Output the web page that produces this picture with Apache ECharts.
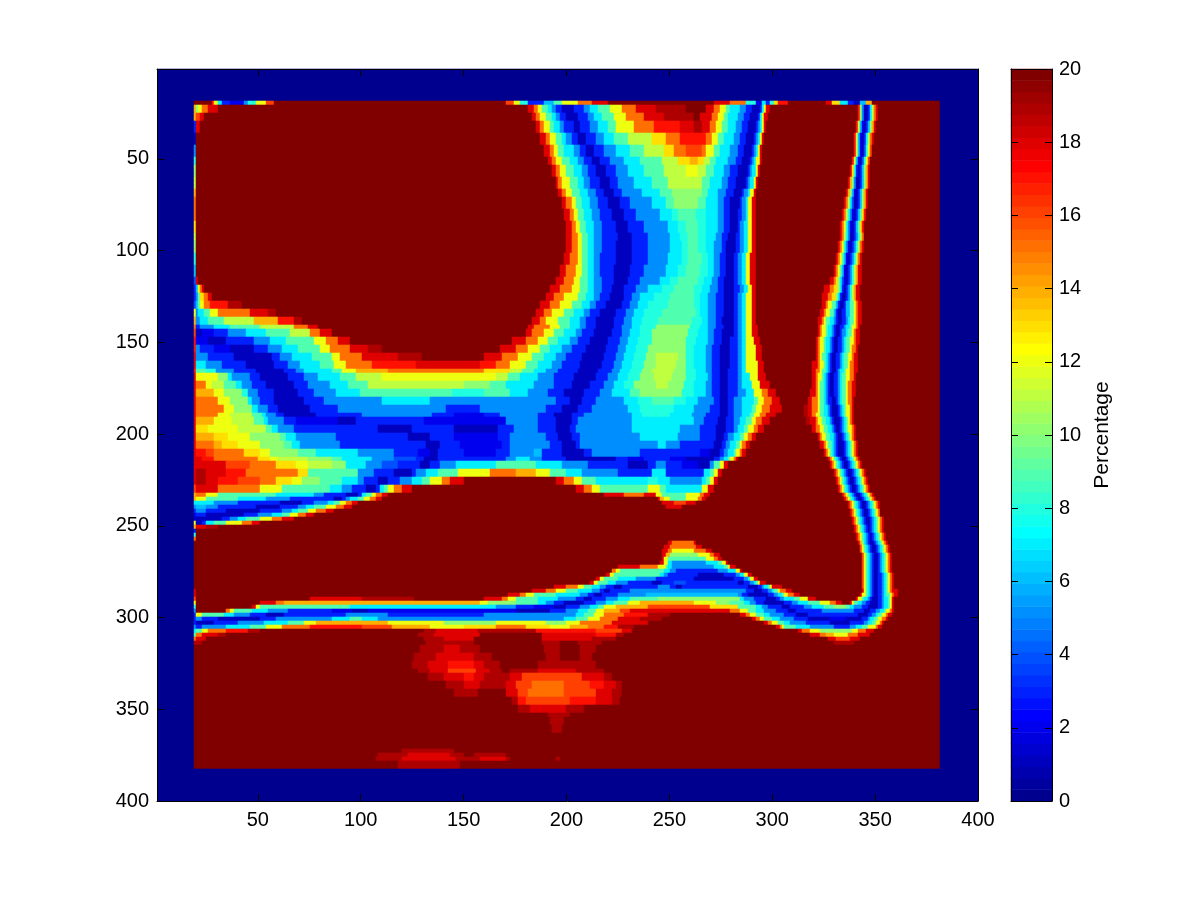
<!DOCTYPE html>
<html>
<head>
<meta charset="utf-8">
<style>html,body{margin:0;padding:0;background:#fff}#c{width:1200px;height:900px}</style>
<script src="https://cdn.jsdelivr.net/npm/echarts@6/dist/echarts.min.js"></script>
</head>
<body>
<div id="c"></div>
<script>
// Values. Each row: first image row (y) and "value endX" runs along x.
const rowStarts = [19,21,24,26,30,36,42,48,54,60,66,72,78,84,90,96,102,108,114,120,
124,128,132,136,140,144,148,152,156,160,164,168,172,176,180,184,188,192,196,200,204,208,212,216,220,224,228,232,
234,236,238,240,242,244,246,248,250,252,254,256,258,260,262,264,266,268,270,272,274,276,278,280,282,284,286,288,
290,292,294,296,298,300,302,304,306,308,310,312,314,316,320,324,328,332,336,340,344,348,352,356,360,364,372,374,376,378,380];
const rowRuns = [
"20 27 17 28 12 30 7 32 3 36 2 42 5 44 8 48 12 53 16 57 20 170 16 174 12 177 8 181 3 189 6 194 9 198 12 205 15 212 18 220 20 272 18 280 15 287 8 292 2 295 7 297 3 299 8 301 13 303 17 308 20 326 18 329 13 333 7 337 3 340 1 343 6 346 14 349 20 382",
"14 19 10 20 12 22 15 25 18 30 20 181 18 184 15 186 12 188 9 191 7 193 5 195 3 198 1 203 3 208 5 211 7 215 9 221 12 227 15 234 18 243 19 258 20 268 18 272 15 275 12 278 9 280 7 284 5 287 3 290 1 294 3 295 7 296 12 297 18 299 20 342 17 343 10 344 5 345 1 347 3 348 7 349 11 350 15 351 18 352",
"7 19 12 20 18 22 20 182 18 185 15 187 12 189 9 192 7 194 5 196 3 199 1 204 3 209 5 212 7 216 9 222 12 228 15 236 18 245 19 259 20 266 18 271 15 274 12 277 9 279 7 283 5 286 3 289 1 293 3 294 7 295 12 296 18 298 20 342 17 343 10 344 5 345 1 347 3 348 7 349 11 350 15 351 18 352",
"14 19 16 21 18 23 20 183 18 185 15 187 12 190 9 193 7 195 5 197 3 200 1 205 3 210 5 213 7 217 9 223 12 229 15 238 18 247 19 262 20 265 18 271 15 274 12 277 9 279 7 283 5 286 3 289 1 293 3 294 7 295 12 296 18 298 20 342 17 343 10 344 5 345 1 347 3 348 7 349 11 350 15 351 18 352",
"3 19 18 21 20 185 18 187 15 189 12 192 9 194 7 197 5 199 3 203 1 206 3 211 5 215 7 220 9 224 12 233 15 242 17 255 18 262 19 266 18 270 15 273 12 276 9 279 7 282 5 285 3 288 1 292 3 293 5 294 7 295 12 296 18 297 20 341 17 342 11 343 6 344 2 345 1 346 3 347 6 348 10 349 14 350 18 351",
"1 19 20 187 18 190 15 192 12 195 9 198 7 200 5 202 3 205 1 209 3 214 5 218 7 223 9 230 11 241 13 248 15 255 17 268 15 271 12 274 9 277 7 281 5 284 3 287 1 291 3 292 5 293 7 294 12 295 18 296 20 340 17 341 11 342 6 343 2 344 1 345 3 346 7 347 11 348 15 349 18 350",
"5 19 20 189 18 192 15 194 12 196 9 199 7 203 5 206 3 209 1 213 3 218 5 224 7 231 9 238 11 247 13 252 15 258 16 266 15 268 12 272 9 275 7 280 5 283 3 286 1 290 3 291 5 292 7 293 12 294 18 295 20 340 17 341 11 342 6 343 2 344 1 345 4 346 8 347 12 348 16 349",
"8 19 20 191 18 193 15 195 12 198 9 201 7 205 5 208 3 212 1 216 3 221 5 228 7 236 9 246 11 254 13 260 14 264 13 267 11 270 9 273 7 279 5 282 3 285 1 289 3 290 5 291 7 292 12 294 18 295 20 339 17 340 11 341 6 342 2 343 1 344 4 345 8 346 12 347 16 348",
"10 19 20 193 18 195 15 197 12 200 9 203 7 207 5 210 3 214 1 219 3 224 5 230 7 238 9 247 11 258 12 264 11 268 9 272 7 277 5 280 3 283 1 288 3 289 5 290 7 292 12 293 18 294 20 338 18 339 13 340 8 341 3 342 1 343 3 344 6 345 10 346 14 347 18 348",
"11 19 20 195 18 196 15 198 12 201 9 205 7 208 5 211 3 216 1 221 3 225 5 233 7 241 9 249 11 266 9 270 7 276 5 279 3 282 1 287 3 288 5 289 7 291 12 292 18 293 20 337 18 338 14 339 10 340 5 341 1 343 3 344 6 345 10 346 14 347 18 348",
"14 19 20 196 18 198 15 200 12 202 9 206 7 210 5 214 3 218 1 223 3 227 5 237 7 245 9 251 10 266 9 269 7 274 5 278 3 281 1 285 3 286 5 288 7 289 12 291 18 292 20 336 18 337 14 338 10 339 6 340 2 341 1 342 3 343 6 344 10 345 14 346 18 347",
"15 19 20 198 18 200 15 202 12 204 9 207 7 211 5 215 3 220 1 226 3 231 5 241 7 248 9 252 10 264 9 268 7 274 5 277 3 280 1 284 3 285 5 287 7 288 12 290 18 292 20 335 18 336 15 337 11 338 7 339 4 340 1 342 3 343 6 344 10 345 14 346 18 347",
"15 19 20 199 18 201 15 203 12 205 9 208 7 212 5 216 3 222 1 228 3 234 5 245 7 251 8 254 9 263 8 268 7 274 5 277 3 280 1 283 3 285 5 287 7 288 12 290 18 292 20 334 18 335 15 336 11 337 8 338 5 339 2 340 1 341 3 342 6 343 9 344 13 345 17 346",
"13 19 20 200 18 202 15 204 12 206 9 209 7 213 5 217 3 224 1 230 3 238 5 249 7 254 8 258 9 264 8 268 7 274 5 277 3 280 1 283 3 284 5 286 7 288 12 290 18 292 20 333 18 334 15 335 12 336 8 337 5 338 2 339 1 340 3 341 6 342 9 343 13 344 17 345",
"11 19 20 200 18 202 15 205 12 207 9 210 7 213 5 217 3 225 1 232 3 240 5 250 7 255 8 259 9 264 8 268 7 273 5 276 3 279 1 282 3 284 5 286 7 288 12 290 18 292 20 333 18 334 15 335 11 336 8 337 5 338 1 340 3 341 5 342 8 343 11 344 15 345",
"10 19 20 200 18 202 15 205 12 207 9 210 7 213 5 217 3 224 1 232 3 240 5 250 7 256 8 259 9 264 8 268 7 272 5 276 3 278 1 282 3 284 5 286 7 288 12 290 18 292 20 332 18 333 15 334 12 335 8 336 5 337 2 338 1 339 3 340 5 341 8 342 11 343 15 344 18 345",
"8 19 20 199 18 201 15 205 12 207 9 210 7 213 5 216 3 224 1 232 3 240 5 249 7 256 8 259 9 266 8 269 7 272 5 275 3 278 1 281 3 283 5 285 7 287 12 289 18 292 20 331 18 332 15 333 12 334 9 335 6 336 2 337 1 338 3 339 5 340 8 341 11 342 15 343 18 344",
"6 19 20 197 18 200 15 204 12 207 9 210 7 213 5 216 3 223 1 231 3 238 5 248 7 254 8 258 9 265 8 269 7 272 5 275 3 278 1 281 3 283 5 285 7 287 12 289 18 292 20 330 18 331 15 332 12 333 9 334 6 335 2 336 1 337 3 338 5 339 8 340 11 341 14 342 18 344",
"4 19 18 20 20 195 18 199 15 203 12 206 9 210 7 213 5 217 3 223 1 230 3 236 5 245 7 250 8 254 9 264 8 267 7 271 5 274 3 277 1 281 3 283 5 285 7 287 12 289 18 292 20 328 18 330 15 331 13 332 10 333 7 334 4 335 2 336 1 337 3 338 5 339 8 340 11 341 14 342 18 344",
"3 19 6 20 12 21 15 22 18 23 20 192 18 197 15 202 12 206 9 210 7 213 5 217 3 222 1 228 3 234 5 240 7 246 8 252 9 262 8 266 7 270 5 274 3 277 1 281 3 284 5 286 7 288 12 290 18 292 20 325 18 328 15 330 13 332 10 333 7 334 3 335 1 336 3 337 5 338 8 339 11 340 14 341 18 343",
"3 19 5 20 9 21 13 23 15 25 18 27 20 190 18 194 15 199 12 205 9 209 7 213 5 216 3 221 1 228 3 232 5 236 7 242 8 250 9 262 8 265 7 269 5 273 3 277 1 281 3 283 5 285 7 287 12 290 18 292 20 324 18 327 15 329 13 331 10 332 7 333 3 334 1 336 3 337 5 338 8 339 11 340 14 341 18 343",
"4 19 6 20 9 21 12 23 15 26 17 35 19 41 20 187 18 192 15 197 12 202 9 207 7 211 5 214 3 219 1 227 3 231 5 235 7 240 8 249 9 262 8 265 7 269 5 273 3 277 1 281 3 283 5 285 7 287 12 290 18 292 20 324 18 326 15 327 12 329 9 331 6 332 3 333 1 335 3 336 6 338 9 340 12 341 15 342 18 344",
"12 19 5 20 7 23 9 26 12 30 15 45 18 54 19 58 20 185 18 189 15 193 12 199 9 203 7 208 5 211 3 216 1 224 3 229 5 233 7 238 8 246 9 263 8 265 7 269 5 273 3 277 1 281 3 283 5 285 7 287 12 290 18 292 20 323 18 325 15 326 12 328 9 330 6 331 3 332 1 334 3 336 6 338 9 340 12 341 15 342 18 344",
"14 19 5 21 7 25 9 33 11 47 14 59 17 67 19 71 20 183 18 187 15 190 12 196 9 201 7 206 5 209 3 214 1 223 3 228 5 232 7 237 8 244 9 261 8 266 7 269 5 273 3 276 1 281 3 283 5 285 7 287 12 290 18 292 20 322 18 324 15 325 12 326 9 328 7 330 5 331 3 332 1 334 3 336 5 337 7 338 9 340 12 341 15 342 18 344",
"15 19 3 21 5 28 7 36 9 50 11 67 15 74 18 79 20 181 18 184 15 192 12 197 9 201 7 206 5 209 3 214 1 223 3 227 5 232 7 236 8 243 10 260 8 265 7 269 5 273 3 277 1 281 3 283 5 285 7 287 12 290 18 293 20 322 18 323 15 324 12 326 9 327 7 329 5 330 3 331 1 333 3 335 5 336 7 338 9 339 12 341 15 342 18 343",
"16 19 1 22 2 28 3 35 5 43 7 53 9 65 11 75 15 80 18 85 20 180 18 183 15 189 12 194 9 199 7 204 5 207 3 213 1 222 3 227 5 231 7 236 8 241 10 259 8 264 7 269 5 272 3 276 1 281 3 283 5 285 7 287 12 290 18 293 20 322 18 323 15 324 12 326 9 327 7 329 5 330 3 331 1 333 3 334 5 336 7 337 9 339 12 340 15 341 18 343",
"17 19 2 25 1 34 3 47 5 55 7 63 9 77 12 82 15 88 18 94 20 173 18 180 15 186 12 191 9 196 7 201 5 205 3 211 1 220 3 226 5 230 7 235 8 241 10 258 8 263 7 269 5 272 3 276 1 280 3 283 5 285 7 287 12 291 18 294 20 321 18 322 15 323 12 325 9 326 7 328 5 329 3 330 1 332 3 334 5 335 7 336 9 338 12 340 15 341 18 343",
"17 19 5 21 3 28 2 36 1 47 3 54 5 61 7 69 9 80 12 84 15 94 18 103 19 110 20 167 18 175 15 181 12 187 9 192 7 198 5 202 3 209 1 219 3 225 5 229 7 234 8 240 10 258 8 262 7 268 5 271 3 275 1 280 3 283 5 285 7 287 12 292 18 295 20 321 18 322 15 323 12 325 9 326 7 328 5 329 3 330 1 332 3 334 5 335 7 336 9 338 12 339 15 341 18 342",
"18 19 5 25 3 38 1 56 3 60 5 66 7 76 9 85 12 89 15 100 18 118 19 129 20 160 18 168 15 176 12 183 9 189 7 195 5 200 3 207 1 218 3 224 5 228 7 233 8 239 10 243 11 254 10 258 8 262 7 268 5 271 3 275 1 280 3 283 5 285 7 287 12 292 18 295 20 321 18 322 15 323 12 324 9 326 7 327 5 328 3 329 1 331 3 333 5 334 7 335 9 337 12 339 15 340 18 342",
"18 19 7 24 5 32 3 43 1 57 3 64 5 70 7 80 9 86 12 92 15 105 17 126 18 158 17 165 15 172 12 180 9 186 7 193 5 198 3 206 1 217 3 223 5 227 7 232 8 238 10 243 11 253 10 258 8 262 7 268 5 271 3 275 1 280 3 283 5 285 7 287 12 293 18 296 20 320 18 322 15 323 12 325 9 326 7 327 5 328 3 329 1 331 3 333 5 334 7 335 9 337 12 338 15 340 18 342",
"17 19 9 24 8 29 5 38 3 48 1 62 3 68 5 72 7 85 9 90 12 97 14 113 15 160 13 172 11 178 9 184 7 190 5 196 3 205 1 215 3 222 5 226 7 231 8 237 10 241 11 252 10 258 8 263 7 268 5 271 3 275 1 279 3 283 5 285 7 287 12 293 18 296 20 320 18 321 15 323 12 324 9 326 7 327 5 328 3 329 1 331 3 332 5 333 7 335 9 336 12 338 15 340 18 342",
"18 19 12 30 10 35 7 37 5 45 3 50 1 64 3 72 5 79 7 89 9 97 11 110 12 165 11 171 9 177 7 186 5 194 3 203 1 214 3 220 5 225 7 230 8 236 10 242 11 251 10 258 8 263 7 269 5 271 3 275 1 279 3 283 5 285 7 289 12 293 18 297 20 320 18 321 15 322 12 324 9 325 7 326 5 327 3 328 1 330 3 332 5 333 7 334 9 336 12 338 15 340 18 341",
"18 19 15 24 12 27 11 33 9 39 7 41 5 46 3 53 1 67 3 74 5 84 7 93 9 103 11 150 10 162 9 170 7 184 5 194 3 202 1 211 3 218 5 223 7 228 8 233 10 243 11 249 10 257 8 262 7 268 5 271 3 275 1 279 3 283 5 285 7 290 12 294 18 299 20 320 18 321 15 322 12 323 9 325 7 326 5 327 3 328 1 330 3 332 5 333 7 334 9 336 12 337 15 339 18 341",
"18 19 14 28 12 33 10 41 8 44 5 49 3 57 1 69 3 77 5 87 7 99 9 144 8 160 9 172 7 181 5 191 3 199 1 208 3 216 5 222 7 231 9 236 10 256 8 262 7 268 5 271 3 275 1 279 3 283 5 287 7 291 12 295 15 298 18 302 20 319 18 321 15 322 12 323 9 325 7 326 5 327 3 328 1 330 3 332 5 333 7 334 9 336 12 337 15 339 18 341",
"18 19 15 30 12 36 10 44 7 46 5 50 3 57 1 72 3 81 5 110 7 133 5 195 3 201 1 207 3 214 5 228 7 235 8 241 9 252 8 258 7 264 5 272 3 275 1 279 3 281 5 285 7 291 9 293 12 296 15 300 18 304 20 318 18 320 15 322 12 323 9 325 7 326 5 327 3 329 1 331 3 332 5 333 7 334 9 336 12 337 15 339 18 340",
"18 19 15 33 12 38 10 46 7 49 5 54 3 59 1 75 3 88 5 141 3 158 5 190 3 198 1 205 3 212 5 230 7 236 8 252 7 262 5 270 3 275 1 279 3 281 5 285 7 290 9 292 12 295 15 299 18 305 20 316 19 318 18 320 15 322 12 323 9 325 7 327 5 328 3 329 1 332 3 333 5 334 7 335 9 336 12 338 15 339 18 340",
"18 19 15 30 12 36 11 46 9 51 7 53 5 58 3 62 1 78 3 100 5 134 3 145 2 160 3 167 5 186 3 194 1 202 3 208 5 232 7 237 8 250 7 261 5 268 3 275 1 279 3 281 5 285 7 289 9 291 12 294 15 297 18 302 20 316 19 318 18 320 15 321 12 323 9 325 7 327 5 328 3 329 1 332 3 333 5 334 7 335 9 336 12 338 15 339 18 340",
"18 19 14 28 12 37 11 47 9 52 7 54 5 62 3 68 2 88 1 97 3 130 2 170 5 186 3 195 1 202 3 205 5 232 7 262 5 267 3 274 1 278 3 281 5 284 7 287 9 290 12 292 15 295 18 299 20 317 19 319 18 321 15 322 12 324 9 326 7 328 5 329 3 330 1 333 3 334 5 335 7 336 9 337 12 338 15 339 18 340",
"18 19 13 25 12 40 11 53 9 56 7 59 5 67 3 108 1 124 3 145 1 166 3 174 5 186 3 195 1 201 3 204 5 232 7 255 5 265 3 273 1 278 3 281 5 283 7 286 9 288 12 291 15 293 18 296 20 320 18 321 15 323 12 325 9 327 7 329 5 330 3 331 1 333 3 334 5 335 7 336 9 337 12 339 15 340 18 341",
"18 19 14 28 13 35 12 45 10 60 9 63 7 68 5 87 3 122 1 133 3 145 2 166 3 172 5 190 3 196 1 202 3 206 5 236 7 254 5 265 3 273 1 277 3 279 5 281 7 284 9 286 12 288 15 290 18 292 20 322 18 323 15 324 12 326 9 328 7 330 5 331 3 332 1 334 3 335 5 336 7 337 9 338 12 339 15 340 18 341",
"18 19 15 28 14 32 13 40 12 50 10 62 9 66 7 70 5 89 3 131 1 138 3 148 2 168 3 172 5 192 3 198 1 204 3 206 5 244 7 248 5 255 3 272 1 276 3 278 5 280 7 282 9 284 12 285 15 287 18 289 20 323 18 325 15 326 12 327 9 329 7 330 5 331 3 332 1 335 3 336 5 337 7 338 9 339 12 340 15 341 18 342",
"18 19 17 24 16 28 15 42 13 50 12 55 10 69 9 78 7 98 5 116 3 127 2 133 1 137 3 150 2 165 3 172 5 184 6 188 3 198 1 208 3 212 5 236 3 265 2 270 1 275 3 277 5 279 7 281 9 282 12 284 15 285 18 287 20 325 18 326 15 327 12 328 9 329 7 330 5 331 3 332 1 335 3 336 5 337 7 338 9 339 12 340 15 341 18 342",
"18 22 17 28 15 49 13 55 12 59 11 74 10 85 9 90 7 105 5 116 4 126 3 130 1 137 3 170 5 175 7 182 5 188 3 200 1 224 3 230 2 238 3 250 2 258 1 272 3 275 5 277 7 279 9 280 12 281 15 282 18 283 20 327 18 328 15 329 12 330 9 331 7 332 5 333 3 334 1 336 3 337 5 338 7 339 9 340 12 341 15 342 18 343",
"18 34 16 45 15 58 13 68 12 74 11 85 10 92 7 102 5 110 4 118 3 128 1 133 3 138 5 146 7 165 9 185 7 198 5 210 3 230 1 240 3 243 5 248 3 256 2 264 1 270 5 272 9 275 12 277 18 279 20 328 18 329 15 330 12 331 9 332 7 333 5 334 3 335 1 337 3 338 5 339 7 340 9 341 12 342 15 343 18 344",
"18 19 19 24 18 34 17 43 15 69 13 74 9 98 5 106 3 116 1 124 3 126 5 131 7 137 9 147 12 162 15 175 14 185 12 192 9 200 7 207 5 225 3 241 7 248 3 267 7 270 9 272 12 274 18 276 20 330 18 331 15 332 12 333 9 334 7 335 5 336 3 337 1 339 3 340 5 341 7 342 9 343 12 344 15 345 18 346",
"18 19 19 24 18 30 17 40 16 50 15 58 13 66 12 71 10 80 9 90 7 98 5 101 3 108 1 113 3 119 5 124 7 129 9 133 12 139 15 143 18 150 20 195 18 199 15 203 12 207 9 214 7 240 8 244 7 250 5 266 7 268 9 270 12 272 18 274 20 331 18 332 15 333 12 334 9 335 7 336 5 337 3 338 1 340 3 341 5 342 7 343 9 344 12 345 15 346 18 347",
"16 19 18 30 15 50 12 61 9 84 7 90 5 95 3 102 1 107 3 109 7 111 9 113 12 116 15 120 18 124 20 204 18 208 15 212 12 216 9 240 12 245 9 248 7 266 12 269 18 272 20 332 18 333 15 334 12 335 9 336 7 337 5 338 3 339 1 341 3 342 5 343 7 344 9 345 12 346 15 347 18 348",
"14 19 15 24 12 30 9 58 7 77 5 81 3 92 1 98 3 100 7 102 9 105 12 107 15 110 18 113 20 218 18 228 15 238 18 243 12 246 9 258 12 265 15 267 18 270 20 334 18 335 15 336 12 337 9 338 7 339 5 340 3 341 1 343 3 344 5 345 7 346 9 347 12 348 15 349 18 350",
"14 19 12 24 9 40 7 53 5 65 3 86 1 90 3 92 5 94 7 98 9 101 12 104 15 107 18 110 20 244 18 245 14 247 12 250 9 258 12 264 15 266 18 268 20 335 18 336 15 337 12 338 9 339 7 340 5 341 3 342 1 344 3 345 5 346 7 347 9 348 12 349 15 350 18 351",
"9 30 7 40 5 58 3 78 1 83 3 86 5 92 7 94 9 96 12 98 15 101 18 104 20 244 18 246 15 252 13 258 15 262 18 268 20 336 18 337 15 338 12 339 9 340 7 341 5 342 3 343 1 345 3 346 5 347 7 348 9 349 12 350 15 351 18 352",
"7 28 5 40 3 60 1 71 3 77 5 83 7 86 9 89 12 92 15 95 18 98 20 246 18 252 16 258 18 263 20 337 18 338 15 339 12 340 9 341 7 342 5 343 3 344 1 346 3 347 5 348 7 349 9 350 12 351 15 352 18 353",
"5 19 6 24 5 30 3 48 1 60 3 69 5 73 7 77 9 82 12 87 15 91 18 95 20 248 18 256 20 337 18 338 15 339 12 340 9 341 7 342 5 343 3 344 1 346 3 347 5 348 7 349 9 350 12 351 15 352 18 353",
"3 19 5 24 3 34 1 50 3 61 5 66 7 69 9 74 12 78 15 82 18 86 20 338 18 339 15 340 12 341 9 342 7 343 5 344 3 345 1 347 3 348 5 349 7 350 9 351 12 352 15 353",
"2 19 3 24 1 42 3 49 5 56 7 61 9 65 12 69 15 73 18 77 20 338 18 339 15 340 12 341 9 342 7 343 5 344 3 345 1 347 3 348 5 349 7 350 9 351 12 352 15 353",
"1 32 3 36 5 40 7 43 9 50 12 56 15 61 18 67 20 339 18 340 15 341 12 342 9 343 7 344 5 345 3 346 1 348 3 349 5 350 7 351 9 352 12 353 15 354 18 355",
"12 19 1 22 3 24 7 28 9 34 12 41 15 46 18 50 20 339 18 340 15 341 12 342 9 343 7 344 5 345 3 346 1 348 3 349 5 350 7 351 9 352 12 353 15 354 18 355",
"14 19 18 24 19 30 20 340 18 341 15 342 12 343 9 344 7 345 5 346 3 347 1 348 3 349 5 350 7 351 9 352 12 353 15 354 18 355",
"3 19 20 340 18 341 15 342 12 343 9 344 7 345 5 346 3 347 1 348 3 349 5 350 7 351 9 352 12 353 15 354 18 355",
"8 19 20 341 18 342 15 343 12 344 9 345 7 346 5 347 3 348 1 349 3 350 5 351 7 352 9 353 12 354 15 355 18 356",
"15 19 20 341 18 342 15 343 12 344 9 345 7 346 5 347 3 348 1 349 3 350 5 351 7 352 9 353 12 354 15 355 18 356",
"18 19 20 255 18 262 20 342 18 343 14 344 10 345 7 346 5 347 3 348 1 350 3 351 5 352 7 353 9 354 12 355 15 356 18 357",
"20 249 18 251 15 262 18 263 20 342 18 343 14 344 10 345 7 346 5 347 3 348 1 350 3 351 5 352 7 353 9 354 12 355 15 356 18 357",
"20 247 18 250 15 263 18 266 20 343 16 344 12 345 9 346 7 347 5 348 3 349 1 351 3 352 5 353 7 354 9 355 12 356 15 357 18 358",
"20 246 18 249 15 251 12 262 15 268 18 271 20 343 16 344 12 345 9 346 7 347 5 348 3 349 1 351 3 352 5 353 7 354 9 355 12 356 15 357 18 358",
"20 246 18 248 14 250 10 264 12 270 15 272 18 275 20 344 16 345 12 346 9 347 7 348 5 349 3 350 1 352 3 353 5 354 7 355 9 356 12 357 15 358 18 359",
"20 246 18 247 12 249 9 268 12 272 15 274 18 276 20 344 16 345 12 346 9 347 7 348 5 349 3 350 1 352 3 353 5 354 7 355 9 356 12 357 15 358 18 359",
"20 245 18 247 12 249 7 251 5 268 7 274 9 276 12 278 18 279 20 344 16 345 12 346 9 347 7 348 5 349 3 350 1 352 3 353 5 354 7 355 9 356 12 357 15 358 18 359",
"20 225 18 236 15 244 12 248 9 249 7 251 5 272 7 277 9 279 12 280 18 282 20 344 16 345 12 346 9 347 7 348 5 349 3 350 1 352 3 353 5 354 7 355 9 356 12 357 15 358 18 359",
"20 222 15 224 12 226 9 247 7 250 5 253 3 274 5 279 7 282 12 284 18 285 20 344 16 345 12 346 9 347 7 348 5 349 3 350 1 352 3 353 5 354 7 355 9 356 12 357 15 358 18 359",
"20 219 18 221 12 223 9 245 7 247 5 249 3 264 1 277 3 282 5 284 7 286 12 288 18 290 20 344 16 345 12 346 9 347 7 348 5 349 3 350 1 352 3 354 5 355 7 356 9 357 12 358 15 359 18 360",
"20 214 18 216 12 218 9 225 7 234 5 243 3 262 1 281 3 286 5 288 7 289 12 291 18 293 20 344 16 345 12 346 9 347 7 348 5 349 3 350 1 352 3 354 5 355 7 356 9 357 12 358 15 359 18 360",
"20 211 18 213 12 215 9 220 7 224 5 230 3 241 1 246 3 252 4 258 3 283 1 286 3 289 5 291 7 292 9 293 12 294 18 297 20 344 16 345 12 346 9 347 7 348 5 349 3 350 1 352 3 354 5 355 7 356 9 357 12 358 15 359 18 360",
"20 205 18 208 15 210 12 212 9 216 7 220 5 226 3 231 1 237 3 246 1 251 3 254 1 258 3 285 1 290 3 292 5 294 7 295 9 297 12 299 18 301 20 344 16 345 12 346 9 347 7 348 5 349 3 350 1 352 3 354 5 355 7 356 9 357 12 358 15 359 18 360",
"20 194 18 200 15 205 12 208 9 212 7 216 5 219 3 223 1 227 3 244 5 250 3 253 1 256 3 288 1 293 3 295 5 296 7 298 9 299 12 300 18 305 20 344 16 345 12 346 9 347 7 348 5 349 3 350 1 352 3 354 5 355 7 356 9 357 12 358 15 359 18 360",
"18 19 20 183 18 190 15 195 12 200 9 205 7 212 5 216 3 218 1 221 3 231 5 287 3 291 1 295 3 298 5 300 7 301 9 303 12 304 15 307 18 310 20 344 18 345 12 346 9 347 7 348 5 349 3 350 1 352 3 354 5 355 7 356 9 357 12 358 15 359 18 361",
"18 19 20 171 18 177 15 180 12 184 9 195 7 206 5 210 3 213 1 217 3 225 5 239 6 283 5 285 3 288 1 298 3 301 5 303 7 305 9 306 12 308 15 311 18 314 20 343 18 344 12 346 9 347 7 348 5 349 3 350 1 352 3 354 5 355 7 356 9 358 12 359 15 360 18 361",
"16 19 20 75 18 100 19 125 20 160 18 168 15 171 12 175 9 186 7 196 5 204 3 208 1 212 3 219 5 225 7 231 9 244 10 284 7 286 5 291 3 297 1 302 3 304 5 306 7 311 9 314 12 318 18 321 20 341 18 342 12 344 9 345 7 347 5 348 3 349 1 352 3 354 5 355 7 357 9 358 12 359 18 360",
"12 19 20 50 18 58 15 62 14 158 12 161 10 175 9 186 7 190 5 194 3 199 1 208 3 214 5 219 7 223 9 230 12 236 14 262 12 273 10 280 9 286 7 289 5 292 3 296 1 306 3 310 5 313 7 318 9 323 12 328 15 331 18 334 20 338 18 339 12 340 9 342 7 344 5 346 3 348 1 352 3 354 5 355 7 357 9 358 12 359 18 360",
"8 19 20 46 18 48 12 50 9 94 7 165 5 175 3 184 2 194 1 200 3 206 5 211 7 215 9 218 12 224 14 240 16 270 13 283 9 292 7 295 5 298 3 305 1 309 3 316 5 320 7 325 9 330 10 336 9 338 7 340 5 344 3 347 1 352 3 354 5 355 7 357 9 358 12 359 18 360",
"5 19 20 34 15 36 12 38 9 46 7 54 5 64 3 85 2 95 1 103 2 175 1 192 3 200 5 205 7 210 9 214 12 218 14 226 16 231 18 280 15 284 12 288 9 292 7 296 5 302 3 308 1 312 3 324 5 340 3 345 1 348 3 351 5 353 7 355 9 356 12 358 15 359 18 360",
"3 19 12 22 9 33 7 38 5 45 3 53 1 62 3 92 5 113 3 160 5 204 7 208 9 213 12 218 15 228 17 240 19 250 20 284 18 287 15 289 12 292 9 296 7 299 5 306 3 312 1 318 3 342 1 347 3 349 5 351 7 352 9 354 12 356 15 357 18 359",
"3 19 5 22 3 30 1 50 3 58 5 85 7 94 9 100 7 108 5 199 7 204 9 210 12 216 15 225 18 236 19 246 20 290 18 292 15 294 12 296 9 300 7 304 5 311 3 318 1 328 2 336 1 344 3 347 5 348 7 350 9 352 12 354 15 356 18 357",
"3 19 1 28 3 40 5 52 7 64 9 72 12 78 14 113 12 140 10 165 12 190 10 200 12 206 15 222 18 240 20 296 18 298 15 300 12 303 9 306 7 309 5 317 3 328 1 338 3 345 5 347 7 349 9 351 12 353 15 354 18 355",
"5 19 3 22 5 34 7 45 9 53 12 61 15 75 17 100 16 115 14 133 12 150 13 165 15 180 13 192 12 201 14 210 15 218 17 225 19 233 20 302 18 304 15 305 12 306 9 312 7 319 5 330 3 338 5 341 7 344 9 347 12 351 15 352 18 354",
"5 19 7 22 9 36 12 46 15 55 18 67 20 108 19 115 18 145 15 168 17 185 15 205 16 224 18 232 20 307 18 309 15 312 12 316 9 322 7 327 5 338 7 340 9 344 12 347 15 349 18 352",
"7 19 9 22 12 25 15 34 17 44 19 50 20 130 19 136 18 157 19 185 17 214 16 227 18 232 20 313 18 315 15 319 12 323 10 339 12 342 15 346 18 350",
"9 19 15 22 18 30 19 34 20 127 19 135 18 158 20 188 18 214 17 224 19 228 20 319 18 323 15 326 14 330 12 337 15 342 18 348",
"15 19 18 24 20 130 19 140 18 155 20 188 18 212 19 224 20 327 18 331 16 338 18 343",
"19 22 20 131 19 155 20 188 19 197 20 205 19 217 20 330 19 340",
"20 128 19 140 18 148 19 158 20 189 19 197 20 206 19 214",
"20 125 19 136 18 155 19 163 20 190 19 197 20 206 19 212",
"20 124 19 132 18 142 17 155 18 160 19 167 20 186 19 214",
"20 127 19 133 18 142 16 156 18 162 19 168 20 172 19 186 18 204 19 218",
"20 132 19 140 18 150 17 155 18 160 19 172 18 178 16 207 18 218 19 222",
"20 141 19 150 18 158 19 170 18 175 16 183 15 199 16 211 17 218 18 224 19 227",
"20 145 19 157 20 170 18 176 16 181 15 199 16 214 18 222 19 227",
"20 173 19 176 17 180 16 201 17 214 18 222 19 226",
"20 176 19 182 18 200 19 208",
"20 191 19 201",
"20 192 19 199",
"20 193 19 198",
"20 382",
"20 120 19 145",
"20 108 19 122 18 143 19 150 20 155 19 170",
"20 107 19 118 18 148 19 158 18 168 19 172 20 194 19 198",
"20 107 19 120 18 146 19 158 18 170 19 172 20 195 19 197",
"20 118 19 148"
];
const xTickLabels = [50,100,150,200,250,300,350,400];
const yTickLabels = [50,100,150,200,250,300,350,400];
const colorbarTitle = "Percentage";

// Jet colour table with 64 steps
const jetColors = [];
for (let i = 0; i < 64; i++) {
  const r = i <= 23 ? 0 : i <= 39 ? (i - 23) / 16 : i <= 55 ? 1 : 1 - (i - 55) / 16;
  const g = i <= 7 ? 0 : i <= 23 ? (i - 7) / 16 : i <= 39 ? 1 : i <= 55 ? 1 - (i - 39) / 16 : 0;
  const b = i <= 7 ? (i + 9) / 16 : i <= 23 ? 1 : i <= 39 ? 1 - (i - 23) / 16 : 0;
  jetColors.push('rgb(' + [r, g, b].map(v => Math.round(v * 255)).join(',') + ')');
}
const pieces = jetColors.map((color, i) => {
  const p = { gte: i * 20 / 64, color: color };
  if (i === 63) p.lte = 20; else p.lt = (i + 1) * 20 / 64;
  return p;
});

// Cells: 410 columns and 183 rows, so each cell falls on whole screen pixels
const COLS = 410, ROWS = 183;
const xCats = [], yCats = [];
for (let i = 0; i < COLS; i++) xCats.push('c' + i);
for (let j = 0; j < ROWS; j++) yCats.push('r' + j);
const parsed = rowRuns.map(s => s.trim().split(/\s+/).map(Number));
const cells = [];
for (let j = 0; j < ROWS; j++) {
  const y = (2 + 4 * j) / 1.83 + 1;
  let r = -1;
  if (y >= 19 && y < 383) {
    for (let k = 0; k < rowStarts.length; k++) if (rowStarts[k] <= y) r = k;
  }
  const runs = r >= 0 ? parsed[r] : null;
  let p = 0;
  for (let i = 0; i < COLS; i++) {
    const x = Math.floor((2 + 2 * i) / 2.05 + 1);
    let v = 0;
    if (runs && x >= 19 && x <= 382) {
      while (p < runs.length && runs[p + 1] < x) p += 2;
      v = p < runs.length ? runs[p] : 20;
    }
    cells.push([i, j, v]);
  }
}
const barCats = jetColors.map((c, i) => String(i));
const barCells = jetColors.map((c, i) => [0, i, (i + 0.5) * 20 / 64]);

const font = { fontFamily: '"Liberation Sans", Arial, sans-serif', fontSize: 20, color: '#000' };
const black = { lineStyle: { color: '#000', width: 1 } };
const hiddenCat = (grid, data, extra) => Object.assign({ type: 'category', gridIndex: grid, data: data, show: false }, extra || {});
const tickAxis = (pos, ticks, margin, extra) => Object.assign({
  type: 'value', gridIndex: 1, position: pos, min: 1, max: 400, z: 10,
  axisLine: Object.assign({ show: true, onZero: false }, black),
  axisTick: Object.assign({ show: true, inside: true, length: 7, customValues: ticks }, black),
  axisLabel: margin ? Object.assign({ show: true, margin: margin, customValues: ticks }, font) : { show: false },
  splitLine: { show: false }
}, extra || {});
const barTicks = (pos, labels, extra) => Object.assign({
  type: 'value', gridIndex: 2, position: pos, min: 0, max: 20, interval: 2, z: 10,
  axisLine: Object.assign({ show: true, onZero: false }, black),
  axisTick: Object.assign({ show: true, inside: true, length: 7 }, black),
  axisLabel: labels ? Object.assign({ show: true, margin: 7 }, font) : { show: false },
  splitLine: { show: false }
}, extra || {});
const barEdge = (pos) => ({
  type: 'value', gridIndex: 2, position: pos, min: 0, max: 1, z: 10,
  axisLine: Object.assign({ show: true, onZero: false }, black),
  axisTick: { show: false }, axisLabel: { show: false }, splitLine: { show: false }
});

const chart = echarts.init(document.getElementById('c'), null, { renderer: 'canvas' });
chart.setOption({
  animation: false,
  backgroundColor: '#fff',
  grid: [
    { left: 158, top: 69, width: 820, height: 732 },
    { left: 157, top: 69, width: 821, height: 732 },
    { left: 1011, top: 69, width: 41, height: 732 }
  ],
  xAxis: [
    hiddenCat(0, xCats),
    tickAxis('bottom', xTickLabels, 9),
    tickAxis('top', xTickLabels, 0),
    hiddenCat(2, ['bar']),
    barEdge('bottom'),
    barEdge('top')
  ],
  yAxis: [
    hiddenCat(0, yCats, { inverse: true }),
    tickAxis('left', yTickLabels, 8, { inverse: true }),
    tickAxis('right', yTickLabels, 0, { inverse: true }),
    hiddenCat(2, barCats),
    barTicks('left', false),
    barTicks('right', true, {
      name: colorbarTitle, nameLocation: 'middle', nameGap: 40, nameRotate: 90,
      nameTextStyle: Object.assign({}, font, { fontSize: 21 })
    })
  ],
  visualMap: {
    type: 'piecewise', show: false, dimension: 2, seriesIndex: [0, 1], pieces: pieces
  },
  series: [
    { type: 'heatmap', xAxisIndex: 0, yAxisIndex: 0, data: cells, silent: true, progressive: 0, z: 2, emphasis: { disabled: true } },
    { type: 'heatmap', xAxisIndex: 3, yAxisIndex: 3, data: barCells, silent: true, progressive: 0, z: 2, emphasis: { disabled: true } }
  ]
});
</script>
</body>
</html>
